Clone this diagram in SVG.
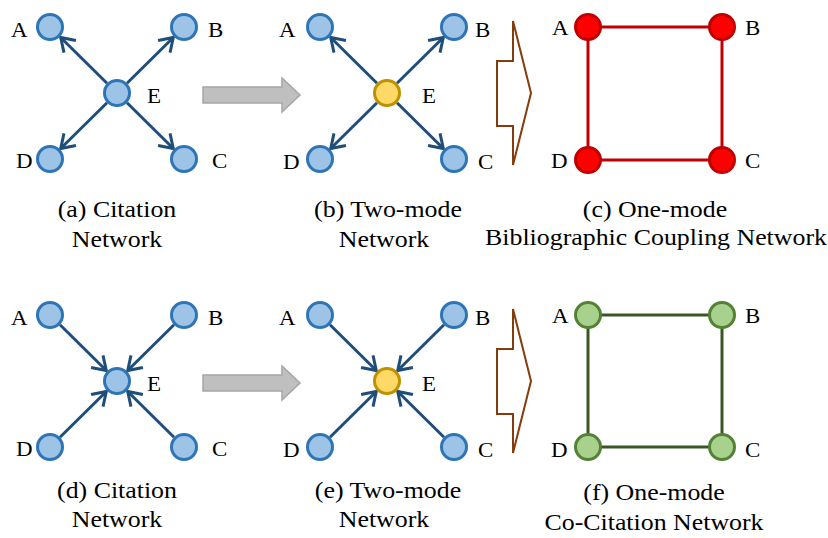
<svg xmlns="http://www.w3.org/2000/svg" width="828" height="538" viewBox="0 0 828 538" font-family="'Liberation Serif', 'Times New Roman', Tinos, 'Nimbus Roman', serif">
<defs>
<style>
.t{font-family:'Liberation Serif','Times New Roman',Tinos,serif;fill:#000}
.lb{font-size:20.5px}
.cap{font-size:22.5px;text-anchor:middle}
.nb{fill:#9DC3E6;stroke:#2E75B6;stroke-width:3}
.ny{fill:#FFD966;stroke:#BF9000;stroke-width:3}
.nr{fill:#FF0000;stroke:#C00000;stroke-width:3}
.ng{fill:#A9D18E;stroke:#548235;stroke-width:3}
.ar{stroke:#1F4E79;stroke-width:3;fill:none;marker-end:url(#ah)}
.er{stroke:#C00000;stroke-width:3;fill:none}
.eg{stroke:#385723;stroke-width:3;fill:none}
.gray{fill:#BFBFBF;stroke:#A6A6A6;stroke-width:1.5}
.brown{fill:#fff;stroke:#843C0C;stroke-width:2}
</style>
<marker id="ah" markerUnits="userSpaceOnUse" markerWidth="20" markerHeight="20" viewBox="-15 -10 17 20" refX="0" refY="0" orient="auto">
<path d="M -13 -8.5 L 0 0 L -13 8.5" fill="none" stroke="#1F4E79" stroke-width="3"/>
</marker>
</defs>

<g id="connectors">
<line class="ar" x1="107" y1="83.2" x2="60.7" y2="37.5"/>
<line class="ar" x1="127" y1="83.2" x2="173.3" y2="37.5"/>
<line class="ar" x1="107" y1="102.8" x2="60.7" y2="148.5"/>
<line class="ar" x1="127" y1="102.8" x2="173.3" y2="148.5"/>
<line class="ar" x1="377" y1="83.2" x2="330.7" y2="37.5"/>
<line class="ar" x1="397" y1="83.2" x2="443.3" y2="37.5"/>
<line class="ar" x1="377" y1="102.8" x2="330.7" y2="148.5"/>
<line class="ar" x1="397" y1="102.8" x2="443.3" y2="148.5"/>
<line class="er" x1="588" y1="27" x2="722" y2="27"/>
<line class="er" x1="722" y1="27" x2="722" y2="160"/>
<line class="er" x1="722" y1="160" x2="588" y2="160"/>
<line class="er" x1="588" y1="160" x2="588" y2="27"/>
<line class="ar" x1="60" y1="324.8" x2="106.3" y2="370.5"/>
<line class="ar" x1="174" y1="324.8" x2="127.7" y2="370.5"/>
<line class="ar" x1="60" y1="437.2" x2="106.3" y2="391.5"/>
<line class="ar" x1="174" y1="437.2" x2="127.7" y2="391.5"/>
<line class="ar" x1="330" y1="324.8" x2="376.3" y2="370.5"/>
<line class="ar" x1="444" y1="324.8" x2="397.7" y2="370.5"/>
<line class="ar" x1="330" y1="437.2" x2="376.3" y2="391.5"/>
<line class="ar" x1="444" y1="437.2" x2="397.7" y2="391.5"/>
<line class="eg" x1="588" y1="315" x2="722" y2="315"/>
<line class="eg" x1="722" y1="315" x2="722" y2="447"/>
<line class="eg" x1="722" y1="447" x2="588" y2="447"/>
<line class="eg" x1="588" y1="447" x2="588" y2="315"/>
<polygon class="gray" points="203,87 282,87 282,78 300,95 282,112 282,103 203,103"/>
<polygon class="gray" points="203,375 282,375 282,366 300,383 282,400 282,391 203,391"/>
<polygon class="brown" points="497,61 513,61 513,21 531,93 513,165 513,126 497,126"/>
<polygon class="brown" points="497,349 513,349 513,309 531,381 513,453 513,414 497,414"/>
</g>

<g id="a-A"><circle class="nb" cx="50" cy="27" r="12.5"/><text class="t lb" transform="translate(11,37) scale(1.12,1)">A</text></g>
<g id="a-B"><circle class="nb" cx="184" cy="27" r="12.5"/><text class="t lb" transform="translate(208,37) scale(1.12,1)">B</text></g>
<g id="a-E"><circle class="nb" cx="117" cy="93" r="12.5"/><text class="t lb" transform="translate(147,103) scale(1.12,1)">E</text></g>
<g id="a-D"><circle class="nb" cx="50" cy="159" r="12.5"/><text class="t lb" transform="translate(16,168) scale(1.12,1)">D</text></g>
<g id="a-C"><circle class="nb" cx="184" cy="159" r="12.5"/><text class="t lb" transform="translate(212,168) scale(1.12,1)">C</text></g>

<g id="b-A"><circle class="nb" cx="320" cy="27" r="12.5"/><text class="t lb" transform="translate(279,37) scale(1.12,1)">A</text></g>
<g id="b-B"><circle class="nb" cx="454" cy="27" r="12.5"/><text class="t lb" transform="translate(475,37) scale(1.12,1)">B</text></g>
<g id="b-E"><circle class="ny" cx="387" cy="93" r="12.5"/><text class="t lb" transform="translate(422,103) scale(1.12,1)">E</text></g>
<g id="b-D"><circle class="nb" cx="320" cy="159" r="12.5"/><text class="t lb" transform="translate(283,169) scale(1.12,1)">D</text></g>
<g id="b-C"><circle class="nb" cx="454" cy="159" r="12.5"/><text class="t lb" transform="translate(478,169) scale(1.12,1)">C</text></g>

<g id="c-A"><circle class="nr" cx="588" cy="27" r="12.5"/><text class="t lb" transform="translate(552,35) scale(1.12,1)">A</text></g>
<g id="c-B"><circle class="nr" cx="722" cy="27" r="12.5"/><text class="t lb" transform="translate(745,35) scale(1.12,1)">B</text></g>
<g id="c-D"><circle class="nr" cx="588" cy="160" r="12.5"/><text class="t lb" transform="translate(551,168) scale(1.12,1)">D</text></g>
<g id="c-C"><circle class="nr" cx="722" cy="160" r="12.5"/><text class="t lb" transform="translate(745,168) scale(1.12,1)">C</text></g>

<g id="d-A"><circle class="nb" cx="50" cy="315" r="12.5"/><text class="t lb" transform="translate(11,325) scale(1.12,1)">A</text></g>
<g id="d-B"><circle class="nb" cx="184" cy="315" r="12.5"/><text class="t lb" transform="translate(208,325) scale(1.12,1)">B</text></g>
<g id="d-E"><circle class="nb" cx="117" cy="381" r="12.5"/><text class="t lb" transform="translate(147,391) scale(1.12,1)">E</text></g>
<g id="d-D"><circle class="nb" cx="50" cy="447" r="12.5"/><text class="t lb" transform="translate(16,456) scale(1.12,1)">D</text></g>
<g id="d-C"><circle class="nb" cx="184" cy="447" r="12.5"/><text class="t lb" transform="translate(212,456) scale(1.12,1)">C</text></g>

<g id="e-A"><circle class="nb" cx="320" cy="315" r="12.5"/><text class="t lb" transform="translate(279,325) scale(1.12,1)">A</text></g>
<g id="e-B"><circle class="nb" cx="454" cy="315" r="12.5"/><text class="t lb" transform="translate(475,325) scale(1.12,1)">B</text></g>
<g id="e-E"><circle class="ny" cx="387" cy="381" r="12.5"/><text class="t lb" transform="translate(422,391) scale(1.12,1)">E</text></g>
<g id="e-D"><circle class="nb" cx="320" cy="447" r="12.5"/><text class="t lb" transform="translate(283,457) scale(1.12,1)">D</text></g>
<g id="e-C"><circle class="nb" cx="454" cy="447" r="12.5"/><text class="t lb" transform="translate(478,457) scale(1.12,1)">C</text></g>

<g id="f-A"><circle class="ng" cx="588" cy="315" r="12.5"/><text class="t lb" transform="translate(552,323) scale(1.12,1)">A</text></g>
<g id="f-B"><circle class="ng" cx="722" cy="315" r="12.5"/><text class="t lb" transform="translate(745,323) scale(1.12,1)">B</text></g>
<g id="f-D"><circle class="ng" cx="588" cy="447" r="12.5"/><text class="t lb" transform="translate(551,457) scale(1.12,1)">D</text></g>
<g id="f-C"><circle class="ng" cx="722" cy="447" r="12.5"/><text class="t lb" transform="translate(745,457) scale(1.12,1)">C</text></g>

<g id="captions">
<text class="t cap" transform="translate(117,217) scale(1.15,1)">(a) Citation</text>
<text class="t cap" transform="translate(117,247) scale(1.15,1)">Network</text>
<text class="t cap" transform="translate(388,217) scale(1.15,1)">(b) Two-mode</text>
<text class="t cap" transform="translate(384,247) scale(1.15,1)">Network</text>
<text class="t cap" transform="translate(655,217) scale(1.15,1)">(c) One-mode</text>
<text class="t cap" transform="translate(656,245) scale(1.15,1)">Bibliographic Coupling Network</text>
<text class="t cap" transform="translate(117,498) scale(1.15,1)">(d) Citation</text>
<text class="t cap" transform="translate(117,527) scale(1.15,1)">Network</text>
<text class="t cap" transform="translate(388,498) scale(1.15,1)">(e) Two-mode</text>
<text class="t cap" transform="translate(384,527) scale(1.15,1)">Network</text>
<text class="t cap" transform="translate(654,500) scale(1.15,1)">(f) One-mode</text>
<text class="t cap" transform="translate(654,530) scale(1.15,1)">Co-Citation Network</text>
</g>
</svg>
